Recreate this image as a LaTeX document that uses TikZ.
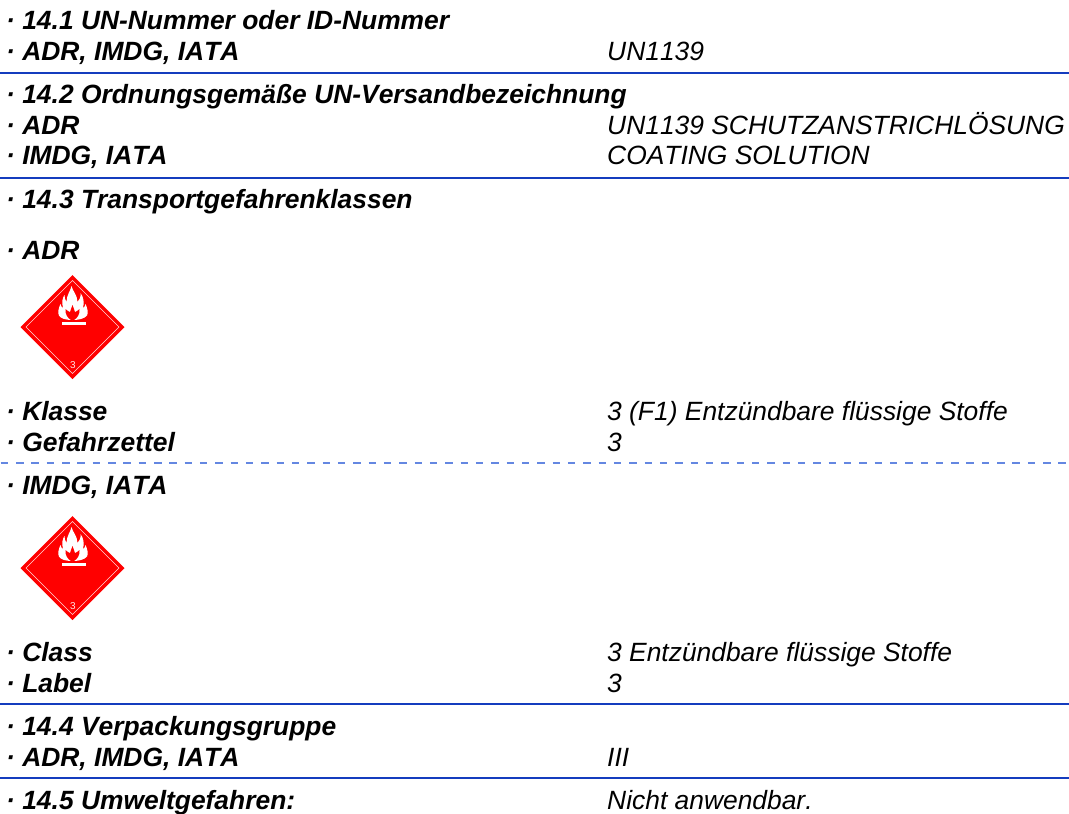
\documentclass[tikz,border=0pt]{standalone}
\usepackage{fontspec}
\setmainfont[Kerning=Off]{Liberation Sans}
\definecolor{ruleblue}{RGB}{20,60,190}
\definecolor{dashblue}{RGB}{100,135,225}
\tikzset{
 lab/.style={anchor=base west,inner sep=0pt,font=\fontsize{26.4}{26.4}\selectfont\bfseries\itshape},
 val/.style={anchor=base west,inner sep=0pt,font=\fontsize{26.4}{26.4}\selectfont\itshape},
 rulesolid/.style={draw=ruleblue,line width=2pt},
 ruledash/.style={draw=dashblue,line width=1.6pt,dash pattern=on 7.5pt off 7.83pt},
}
\newcommand{\hazard}[3]{%
 \begin{scope}[shift={(#1,#2)}]
  \fill[red] (0,-52)--(52,0)--(0,52)--(-52,0)--cycle;
  \draw[white!85!red,line width=0.45pt] (0,-46.5)--(46.5,0)--(0,46.5)--(-46.5,0)--cycle;
  \fill[white] (-1,-41) .. controls (0,-36) and (5,-32) .. (5,-25)
   .. controls (7,-27) and (8.5,-30) .. (8,-34)
   .. controls (11,-30) and (12,-25) .. (10.5,-19)
   .. controls (12,-20) and (12.5,-21) .. (13,-23)
   .. controls (15,-19) and (16,-14) .. (14.5,-11.5)
   .. controls (12,-8.5) and (7,-7) .. (0,-7)
   .. controls (-7,-7) and (-12,-8.5) .. (-13.5,-11.5)
   .. controls (-15,-14) and (-14,-19) .. (-12,-23)
   .. controls (-11.5,-21) and (-11,-20) .. (-9.5,-19)
   .. controls (-11,-25) and (-10,-29) .. (-8,-32)
   .. controls (-8,-30) and (-7.5,-27) .. (-6,-25)
   .. controls (-6,-32) and (-2,-36) .. (-1,-41) -- cycle;
  \fill[red] (0,-22) .. controls (1,-19) and (2,-17) .. (2.5,-15)
   .. controls (4,-15.5) and (5.5,-16.5) .. (7,-18)
   .. controls (7.5,-13) and (5,-9) .. (1.5,-7) -- (-1.5,-7)
   .. controls (-5,-9) and (-7.5,-13) .. (-7,-18)
   .. controls (-5.5,-16.5) and (-4,-15.5) .. (-2.5,-15)
   .. controls (-2,-17) and (-1,-19) .. (0,-22) -- cycle;
  \fill[white] (-10.5,-5) rectangle (13.5,-2.3);
  \node (#3) at (0.5,38.5) [inner sep=0pt,text=white!90!red,font=\fontsize{10}{10}\selectfont] {3};
 \end{scope}}
\begin{document}
\begin{tikzpicture}[x=1pt,y=-1pt]
\useasboundingbox (0,0) rectangle (1069,814);
\node[lab] (a1) at (6,29) {· 14.1 UN-Nummer oder ID-Nummer};
\node[lab] (a2) at (6,60) {· ADR, IMDG, IATA};
\node[val] (v2) at (607,60) {UN1139};
\draw[rulesolid] (0,72.7)--(1069,72.7);
\node[lab] (b1) at (6,103) {· 14.2 Ordnungsgemäße UN-Versandbezeichnung};
\node[lab] (b2) at (6,134) {· ADR};
\node[val] (w2) at (607,134) {UN1139 SCHUTZANSTRICHLÖSUNG};
\node[lab] (b3) at (6,164.5) {· IMDG, IATA};
\node[val] (w3) at (607,164.5) {COATING SOLUTION};
\draw[rulesolid] (0,178)--(1069,178);
\node[lab] (c1) at (6,208) {· 14.3 Transportgefahrenklassen};
\node[lab] (c2) at (6,259) {· ADR};
\hazard{72.5}{327}{n1}
\node[lab] (c3) at (6,420) {· Klasse};
\node[val] (x3) at (607,420) {3 (F1) Entzündbare flüssige Stoffe};
\node[lab] (c4) at (6,451) {· Gefahrzettel};
\node[val] (x4) at (607,451) {3};
\draw[ruledash] (0.7,462.7)--(1069,462.7);
\node[lab] (d1) at (6,494) {· IMDG, IATA};
\hazard{72.5}{568}{n2}
\node[lab] (d2) at (6,661) {· Class};
\node[val] (y2) at (607,661) {3 Entzündbare flüssige Stoffe};
\node[lab] (d3) at (6,692) {· Label};
\node[val] (y3) at (607,692) {3};
\draw[rulesolid] (0,704.3)--(1069,704.3);
\node[lab] (e1) at (6,735) {· 14.4 Verpackungsgruppe};
\node[lab] (e2) at (6,766) {· ADR, IMDG, IATA};
\node[val] (z2) at (607,766) {III};
\draw[rulesolid] (0,778)--(1069,778);
\node[lab] (f1) at (6,809) {· 14.5 Umweltgefahren:};
\node[val] (z3) at (607,809) {Nicht anwendbar.};
\end{tikzpicture}
\end{document}
